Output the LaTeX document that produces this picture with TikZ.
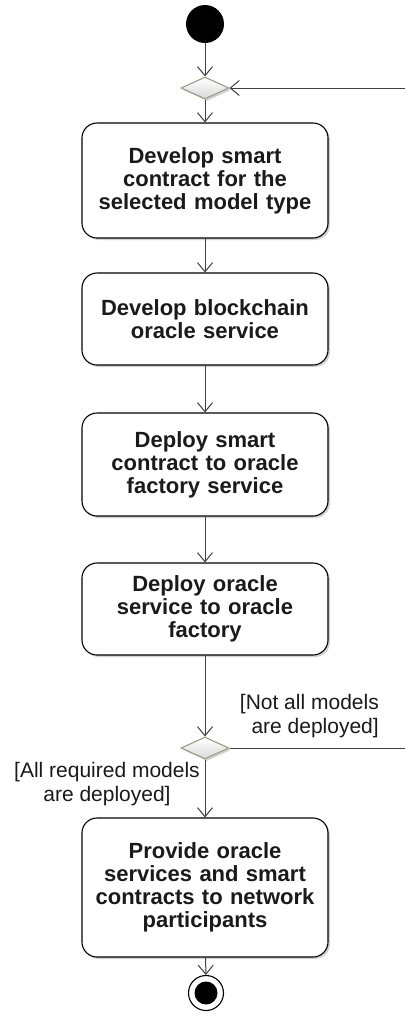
\documentclass[tikz,border=0pt]{standalone}
\usepackage{fontspec}
\setmainfont{Liberation Sans}
\usetikzlibrary{shapes.geometric,arrows.meta,shadows}
\definecolor{linec}{HTML}{404040}
\definecolor{txtc}{HTML}{1A1A1A}
\definecolor{diab}{HTML}{9C9C84}
\begin{document}
\begin{tikzpicture}[x=1pt,y=-1pt,
  act/.style={draw=black, line width=1.1pt, rounded corners=15pt, fill=white,
    minimum width=246pt, text width=232pt, align=center, inner sep=0pt,
    font=\fontsize{22}{23}\selectfont\bfseries, text=txtc,
    drop shadow={shadow xshift=2pt, shadow yshift=-2pt, opacity=0.35, fill=gray}},
  dec/.style={diamond, draw=diab, line width=1.1pt, minimum width=48pt, minimum height=22pt,
    inner sep=0pt, top color=white, bottom color=gray!30,
    drop shadow={shadow xshift=2pt, shadow yshift=-2pt, opacity=0.35, fill=gray}},
  flow/.style={draw=linec, line width=1pt, -{Straight Barb[length=9pt, width=15pt, line width=1pt]}},
  guard/.style={font=\fontsize{21}{24}\selectfont, text=txtc, inner sep=0pt}
]
\useasboundingbox (0,0) rectangle (405,1018);
\fill[white] (0,0) rectangle (405,1018);

\node[circle, fill=black, minimum size=38pt, inner sep=0pt] (start) at (205,24) {};
\node[dec] (d1) at (205,88) {};
\node[act, minimum height=115pt] (a1) at (205,180.5) {Develop smart\\contract for the\\selected model type};
\node[act, minimum height=92pt] (a2) at (205,319) {Develop blockchain\\oracle service};
\node[act, minimum height=103pt] (a3) at (205,464.5) {Deploy smart\\contract to oracle\\factory service};
\node[act, minimum height=92pt] (a4) at (205,609) {Deploy oracle\\service to oracle\\factory};
\node[dec] (d2) at (205,748) {};
\node[act, minimum height=139pt] (a5) at (205,887.5) {Provide oracle\\services and smart\\contracts to network\\participants};
\node[circle, draw=black, line width=1.1pt, fill=white, minimum size=35pt, inner sep=0pt] (end) at (206,993) {};
\node[circle, fill=black, minimum size=23pt, inner sep=0pt] (endin) at (206,993) {};

\draw[flow] (start) -- (d1);
\draw[flow] (d1) -- (a1);
\draw[flow] (a1) -- (a2);
\draw[flow] (a2) -- (a3);
\draw[flow] (a3) -- (a4);
\draw[flow] (a4) -- (d2);
\draw[flow] (d2) -- (a5);
\draw[flow] (a5) -- (end);

\begin{scope}
\clip (0,0) rectangle (405,1018);
\coordinate (loopc) at (430,748);
\draw[flow] (d2.east) -- (loopc) |- (d1.east);
\end{scope}

\node[guard, align=right, anchor=east] (g1) at (379,716) {[Not all models\\are deployed]};
\node[guard, align=center] (g2) at (107,784) {[All required models\\are deployed]};
\end{tikzpicture}
\end{document}
